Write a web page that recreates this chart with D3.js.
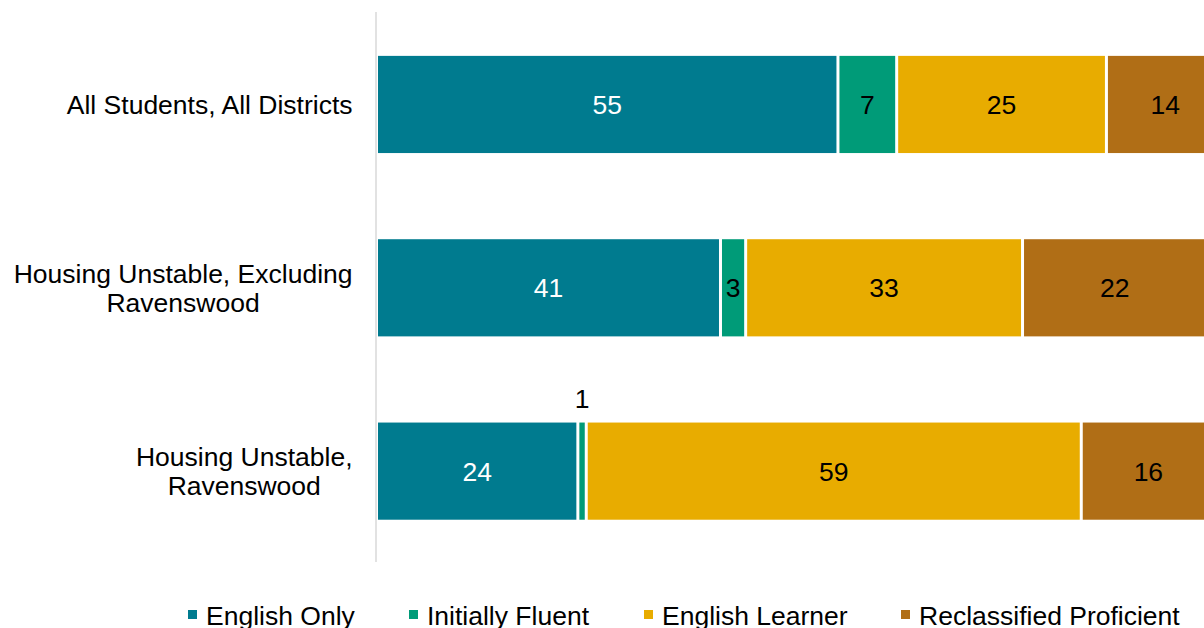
<!DOCTYPE html>
<html><head><meta charset="utf-8">
<script src="https://cdn.jsdelivr.net/npm/d3@7"></script>
<style>body{margin:0;background:#fff;overflow:hidden}svg{display:block;font-family:"Liberation Sans",Arial,sans-serif}</style>
</head><body>
<svg id="chart" width="1204" height="628"></svg>
<script>
const categories = [["All Students, All Districts"], ["Housing Unstable, Excluding", "Ravenswood"], ["Housing Unstable,", "Ravenswood"]];
const categoryKeys = ["All Students, All Districts", "Housing Unstable, Excluding Ravenswood", "Housing Unstable, Ravenswood"];
const seriesNames = ["English Only", "Initially Fluent", "English Learner", "Reclassified Proficient"];
const englishOnly = [55, 41, 24];
const initiallyFluent = [7, 3, 1];
const englishLearner = [25, 33, 59];
const reclassified = [14, 22, 16];
const colors = ["#007B8F", "#009B78", "#E8AC00", "#B06E16"];
const labelColors = ["#ffffff", "#000000", "#000000", "#000000"];
const legendX = [188, 409, 644, 901];
const FS = 26.5;

const seriesValues = [englishOnly, initiallyFluent, englishLearner, reclassified];
const svg = d3.select("#chart");
const x = d3.scaleLinear().domain([0, 100]).range([376.5, 1215.5]);
const y = d3.scaleBand().domain(categoryKeys).range([12.8, 562.8]).paddingInner(0.47).paddingOuter(0.235);

// axis line
svg.append("line").attr("x1", 376).attr("x2", 376).attr("y1", 12).attr("y2", 562)
  .attr("stroke", "#d9d9d9").attr("stroke-width", 1.5);

categoryKeys.forEach((cat, i) => {
  let cum = 0;
  seriesValues.forEach((vals, s) => {
    const v = vals[i];
    const x0 = x(cum), x1 = x(cum + v);
    cum += v;
    svg.append("rect").attr("x", x0 + 1.5).attr("y", y(cat))
      .attr("width", Math.max(0, x1 - x0 - 3)).attr("height", y.bandwidth())
      .attr("fill", colors[s]);
    const cx = (x0 + x1) / 2;
    const t = svg.append("text").attr("x", cx).attr("text-anchor", "middle")
      .attr("font-size", FS).text(v);
    if (x1 - x0 < 15) {
      t.attr("y", y(cat) - 14.5).attr("fill", "#000");
    } else {
      t.attr("y", y(cat) + y.bandwidth() / 2 + 9.5).attr("fill", labelColors[s]);
    }
  });
  // category label
  const lines = categories[i];
  const g = svg.append("g");
  const cy = y(cat) + y.bandwidth() / 2;
  const lh = 29.5;
  const texts = lines.map((ln, k) => g.append("text").attr("font-size", FS).attr("fill", "#000")
    .attr("text-anchor", "middle")
    .attr("y", cy + 9.5 + (k - (lines.length - 1) / 2) * lh).text(ln));
  const maxW = d3.max(texts, t => t.node().getComputedTextLength());
  texts.forEach(t => t.attr("x", 352.5 - maxW / 2));
});

// legend
seriesNames.forEach((name, s) => {
  svg.append("rect").attr("x", legendX[s]).attr("y", 610).attr("width", 9).attr("height", 9).attr("fill", colors[s]);
  svg.append("text").attr("x", legendX[s] + 18).attr("y", 624.5).attr("font-size", FS).attr("fill", "#000").text(name);
});
</script>
</body></html>
